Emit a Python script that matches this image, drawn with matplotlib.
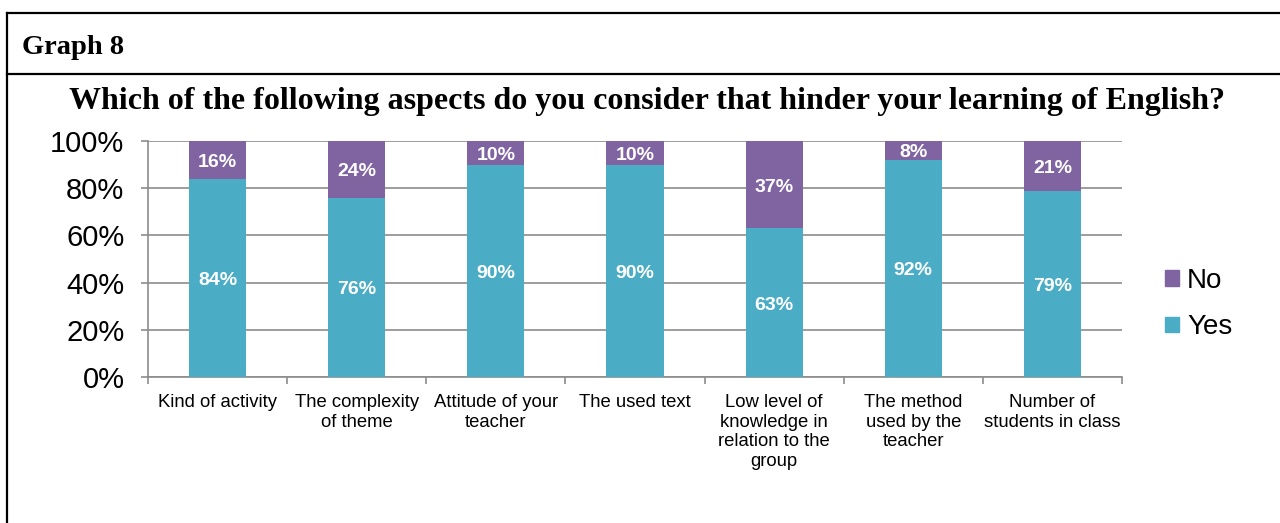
import matplotlib
matplotlib.use("Agg")
import matplotlib.pyplot as plt
from matplotlib.lines import Line2D
from matplotlib.patches import Patch
import numpy as np

categories = ["Kind of activity", "The complexity\nof theme", "Attitude of your\nteacher",
              "The used text", "Low level of\nknowledge in\nrelation to the\ngroup",
              "The method\nused by the\nteacher", "Number of\nstudents in class"]
yes_vals = [84, 76, 90, 90, 63, 92, 79]
no_vals = [16, 24, 10, 10, 37, 8, 21]

col_yes = "#4BACC6"
col_no = "#8064A2"
W, H = 1280, 523

fig = plt.figure(figsize=(12.8, 5.23), dpi=100)

# ***** frame lines (pixel coords) *****
def px_line(x0, y0, x1, y1):
    fig.add_artist(Line2D([x0 / W, x1 / W], [1 - y0 / H, 1 - y1 / H],
                          transform=fig.transFigure, color="black", lw=1.6))

px_line(7, 13, W, 13)
px_line(7, 74, W, 74)
px_line(7, 13, 7, H)

fig.text(22 / W, 1 - 47 / H, "Graph 8", family="Liberation Serif", weight="bold",
         fontsize=20.5, va="center", ha="left")
fig.text(647 / W, 1 - 101 / H,
         "Which of the following aspects do you consider that hinder your learning of English?",
         family="Liberation Serif", weight="bold", fontsize=23, va="center", ha="center")

ax = fig.add_axes([148 / W, 1 - 377 / H, (1122 - 148) / W, (377 - 141) / H])
x = np.arange(len(categories))
bw = 0.41
ax.bar(x, yes_vals, bw, color=col_yes, zorder=3, label="Yes")
ax.bar(x, no_vals, bw, bottom=yes_vals, color=col_no, zorder=3, label="No")

for i in range(len(categories)):
    ax.text(x[i], yes_vals[i] / 2 - 1, f"{yes_vals[i]}%", ha="center", va="center",
            color="white", weight="bold", fontsize=14, family="Liberation Sans", zorder=4)
    ax.text(x[i], yes_vals[i] + no_vals[i] / 2 - 1, f"{no_vals[i]}%", ha="center", va="center",
            color="white", weight="bold", fontsize=14, family="Liberation Sans", zorder=4)

ax.set_xlim(-0.5, len(categories) - 0.5)
ax.set_ylim(0, 100)
ax.set_yticks([0, 20, 40, 60, 80, 100])
ax.set_yticklabels([f"{v}%" for v in [0, 20, 40, 60, 80, 100]],
                   family="Liberation Sans", fontsize=21)
ax.yaxis.grid(True, color="#8c8c8c", lw=1.2, zorder=0)
ax.set_xticks(x)
ax.set_xticklabels(categories, family="Liberation Sans", fontsize=13.3, linespacing=1.22, va="top")
ax.set_xticks(np.arange(-0.5, len(categories)), minor=True)
ax.tick_params(axis="x", which="major", length=0, pad=12)
ax.tick_params(axis="x", which="minor", length=5, color="#8c8c8c", width=1.2)
ax.tick_params(axis="y", length=5, color="#8c8c8c", width=1.2, pad=12)
for s in ["top", "right"]:
    ax.spines[s].set_visible(False)
ax.spines["left"].set_color("#8c8c8c")
ax.spines["bottom"].set_color("#8c8c8c")
ax.spines["left"].set_linewidth(1.2)
ax.spines["bottom"].set_linewidth(1.2)

handles = [Patch(color=col_no, label="No"), Patch(color=col_yes, label="Yes")]
fig.legend(handles=handles, loc="center left", bbox_to_anchor=(1140 / W, 1 - 304 / H),
           frameon=False, prop={"family": "Liberation Sans", "size": 20},
           handlelength=0.5, handleheight=0.5, handletextpad=0.3, labelspacing=0.75)

fig.savefig("out.png", dpi=100, facecolor="white")
